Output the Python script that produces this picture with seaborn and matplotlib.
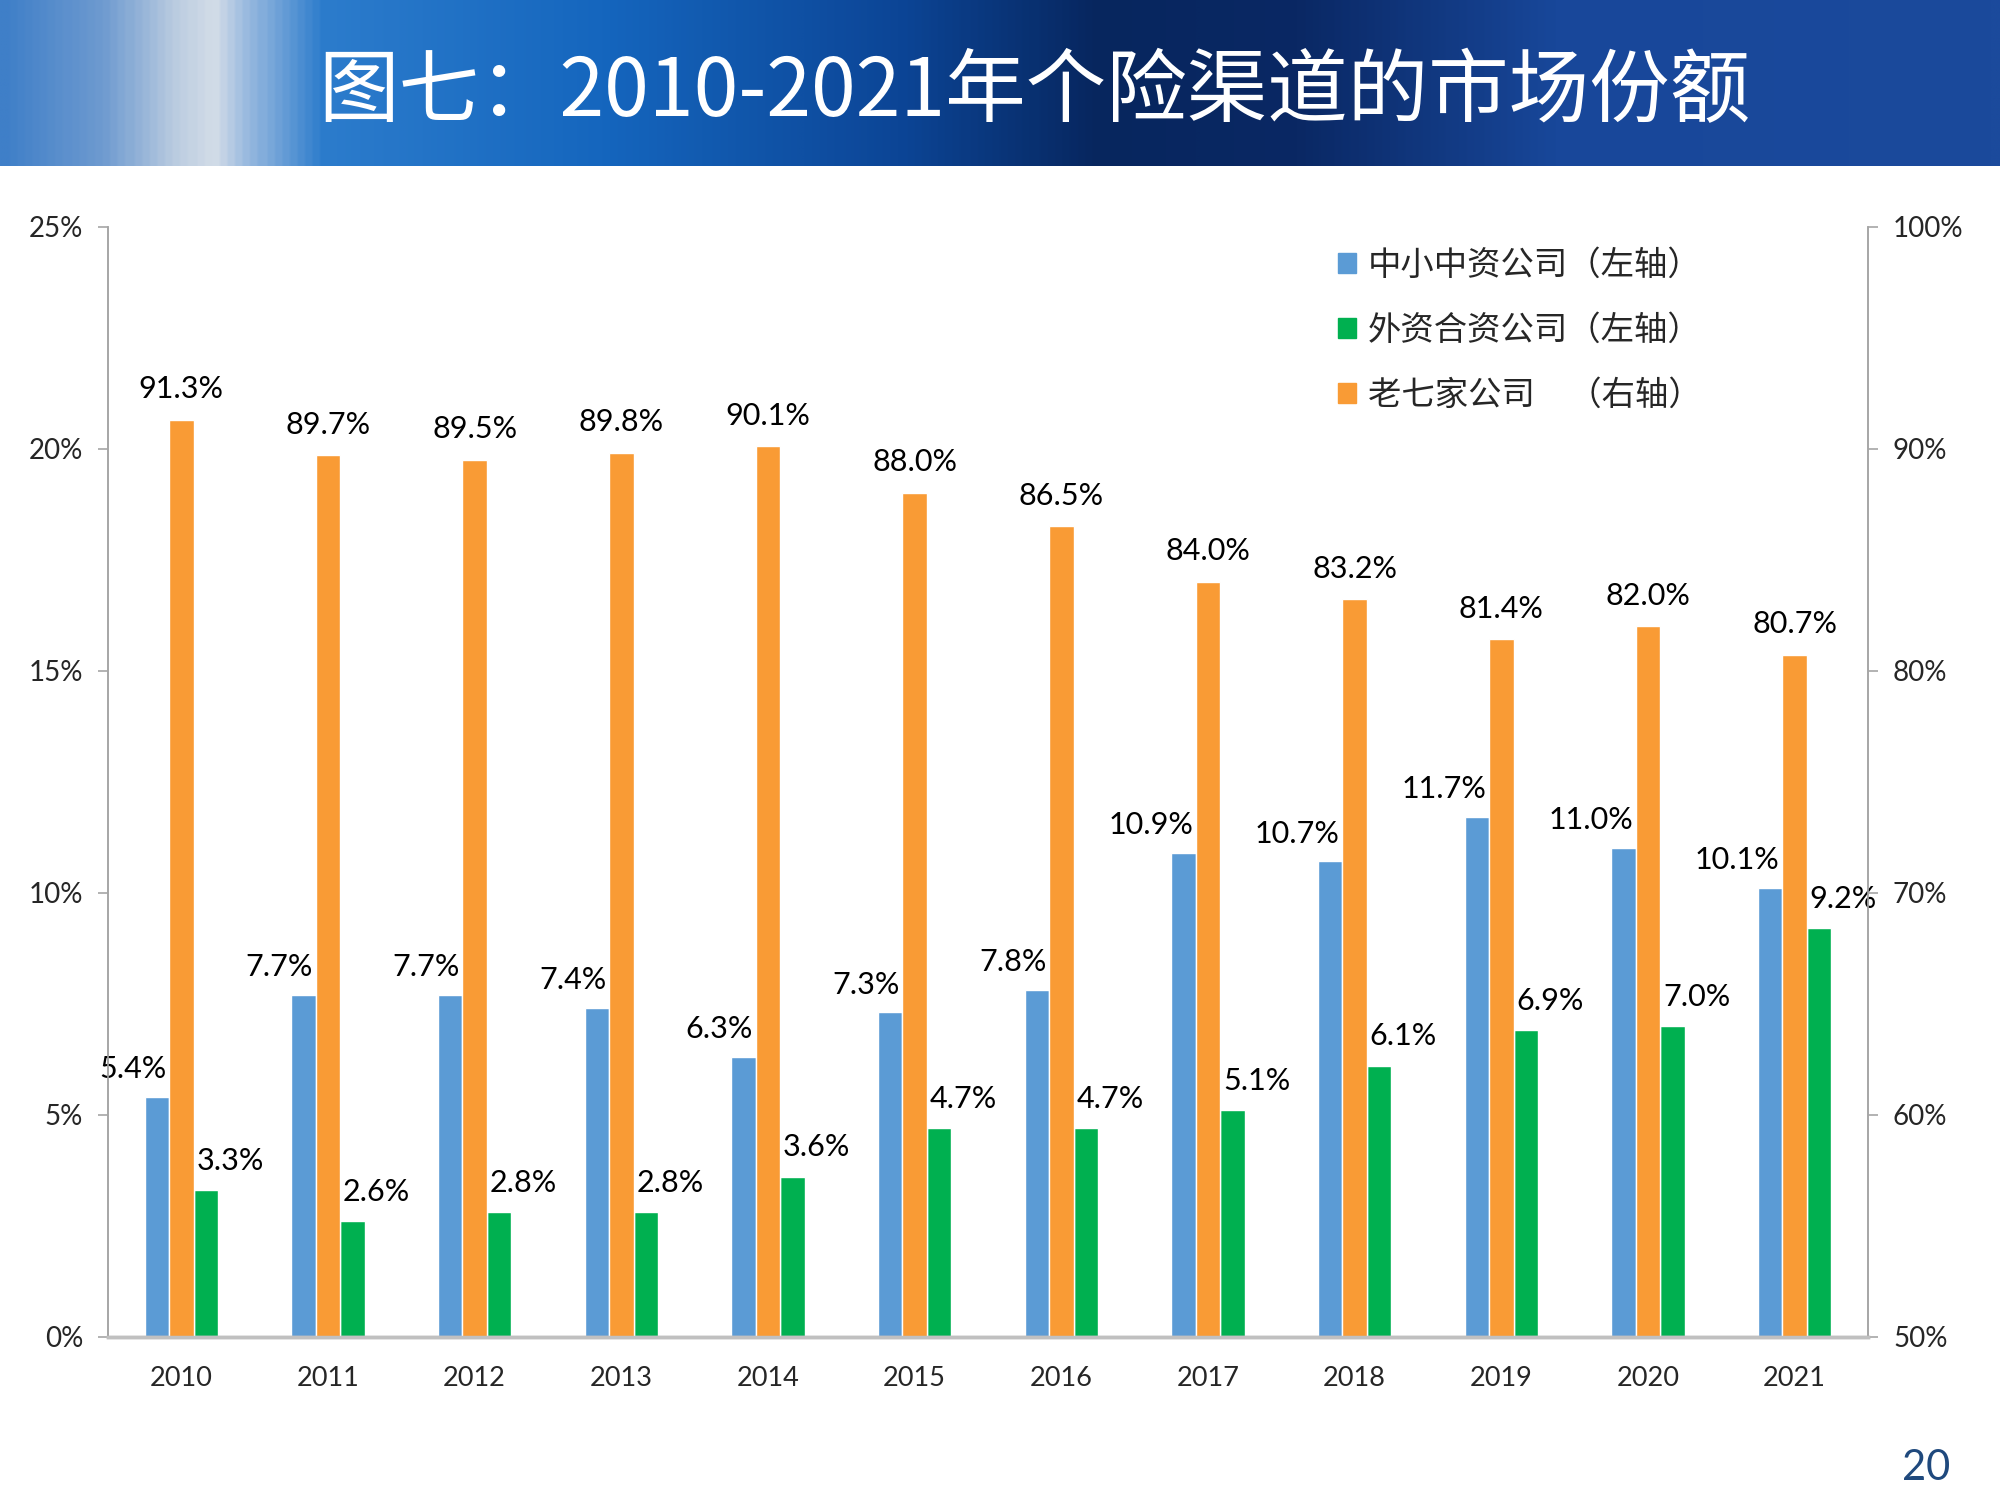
import numpy as np
import pandas as pd
import matplotlib
matplotlib.use("Agg")
import matplotlib.pyplot as plt
import seaborn as sns
from matplotlib.colors import LinearSegmentedColormap
from matplotlib.patches import Patch
from matplotlib.ticker import FuncFormatter

# data (percent)
years = ['2010', '2011', '2012', '2013', '2014', '2015', '2016', '2017', '2018', '2019', '2020', '2021']
sme_share = [5.4, 7.7, 7.7, 7.4, 6.3, 7.3, 7.8, 10.9, 10.7, 11.7, 11.0, 10.1]
foreign_share = [3.3, 2.6, 2.8, 2.8, 3.6, 4.7, 4.7, 5.1, 6.1, 6.9, 7.0, 9.2]
big7_share = [91.3, 89.7, 89.5, 89.8, 90.1, 88.0, 86.5, 84.0, 83.2, 81.4, 82.0, 80.7]

sme_name = '中小中资公司'
big7_name = '老七家公司'
foreign_name = '外资合资公司'
legend_labels = ['中小中资公司（左轴）', '外资合资公司（左轴）', '老七家公司　（右轴）']
left_ticks = [0, 5, 10, 15, 20, 25]
right_ticks = [50, 60, 70, 80, 90, 100]

hue_order = [sme_name, big7_name, foreign_name]
palette = {sme_name: '#5b9bd5', big7_name: '#f99b35', foreign_name: '#00b050'}

df = pd.DataFrame({
    'year': years * 3,
    'series': [sme_name] * 12 + [foreign_name] * 12 + [big7_name] * 12,
    'value': sme_share + foreign_share + big7_share,
})

sns.set_theme(style='white')
plt.rcParams['font.family'] = ['Lato', 'Noto Sans CJK SC', 'DejaVu Sans']

fig = plt.figure(figsize=(20, 15), dpi=100)

# title banner
banner = fig.add_axes([0, 0.889, 1, 0.111])
stops = [(0.0, '#3f7fc8'), (0.05, '#6f9bd0'), (0.085, '#b9cbe0'), (0.105, '#d4dde8'),
         (0.12, '#9fbde0'), (0.16, '#2c7ccc'), (0.3, '#1566be'), (0.45, '#0c4596'),
         (0.55, '#07265e'), (0.65, '#0a2864'), (0.78, '#18479a'), (1.0, '#1b4a9c')]
cmap = LinearSegmentedColormap.from_list('banner', stops)
banner.imshow(np.linspace(0, 1, 800)[None, :], aspect='auto', cmap=cmap, extent=[0, 1, 0, 1],
              interpolation='bilinear')
banner.set_axis_off()
banner.text(0.517, 0.44, '图七：2010-2021年个险渠道的市场份额', color='white', fontsize=58,
            ha='center', va='center', family=['Noto Sans CJK SC', 'DejaVu Sans'],
            transform=banner.transAxes)

ax = fig.add_axes([0.054, 0.109, 0.88, 0.74])
ax2 = ax.twinx()

# same full table on both axes so the three dodge slots line up;
# each axis then keeps only the series that belongs to it
for a in (ax, ax2):
    sns.barplot(data=df, x='year', y='value', hue='series', hue_order=hue_order,
                palette=palette, saturation=1, width=0.5, gap=0, errorbar=None,
                edgecolor='white', linewidth=1, legend=False, ax=a)

ax.set_xlim(-0.5, 11.5)
ax.set_ylim(0, 25)
ax2.set_ylim(50, 100)
ax.set_yticks(left_ticks)
ax2.set_yticks(right_ticks)
pct = FuncFormatter(lambda v, p: f'{v:.0f}%')
ax.yaxis.set_major_formatter(pct)
ax2.yaxis.set_major_formatter(pct)
for a in (ax, ax2):
    a.set_xlabel('')
    a.set_ylabel('')
    a.spines['top'].set_visible(False)
    a.spines['left'].set_color('#a6a6a6')
    a.spines['right'].set_color('#a6a6a6')
    a.spines['left'].set_linewidth(1.2)
    a.spines['right'].set_linewidth(1.2)
    a.spines['bottom'].set_color('#c0c0c0')
    a.spines['bottom'].set_linewidth(2.5)
    a.grid(False)
ax.tick_params(axis='y', which='both', left=True, length=7, width=1.2, color='#a6a6a6',
               labelsize=20, pad=11)
ax2.tick_params(axis='y', which='both', right=True, length=7, width=1.2, color='#a6a6a6',
                labelsize=20, pad=11)
ax.tick_params(axis='x', bottom=False, labelsize=19.5, pad=15)
ax2.tick_params(axis='x', bottom=False)

lbl = dict(fontsize=22, color='black', va='center', textcoords='offset points')
for name, cont in zip(hue_order, ax.containers):
    for bar in cont.patches:
        if name == big7_name:
            bar.set_visible(False)
            continue
        h = bar.get_height()
        if name == sme_name:
            ax.annotate(f'{h:.1f}%', (bar.get_x() + bar.get_width(), h), xytext=(-2, 20),
                        ha='right', **lbl)
        else:
            ax.annotate(f'{h:.1f}%', (bar.get_x(), h), xytext=(2, 21), ha='left', **lbl)
for name, cont in zip(hue_order, ax2.containers):
    for bar in cont.patches:
        if name != big7_name:
            bar.set_visible(False)
            continue
        h = bar.get_height()
        ax2.annotate(f'{h:.1f}%', (bar.get_x() + bar.get_width() / 2, h), xytext=(0, 22),
                     ha='center', **lbl)

handles = [Patch(color=palette[sme_name]), Patch(color=palette[foreign_name]),
           Patch(color=palette[big7_name])]
ax2.legend(handles, legend_labels, loc='upper left', bbox_to_anchor=(0.654, 0.855),
           bbox_transform=fig.transFigure, frameon=False,
           handlelength=0.55, handleheight=0.55, handletextpad=0.35, labelspacing=0.9,
           prop={'family': ['Noto Sans CJK SC', 'DejaVu Sans'], 'size': 24})

fig.text(0.963, 0.021, '20', color='#1f497d', fontsize=30, ha='center', va='center')

fig.savefig('out.png', dpi=100)
